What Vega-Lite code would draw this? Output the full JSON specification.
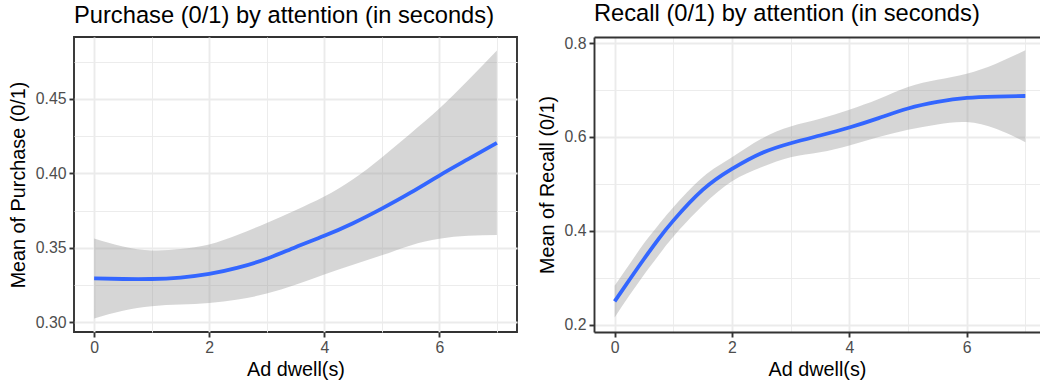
{
  "$schema": "https://vega.github.io/schema/vega-lite/v6.json",
  "padding": {"left": 7, "top": 2, "right": 0, "bottom": 0},
  "background": "white",
  "config": {
    "font": "Liberation Sans",
    "view": {"stroke": "#333333", "strokeWidth": 1.9},
    "axis": {
      "domain": false,
      "domainColor": "#333333",
      "domainWidth": 1.9,
      "tickColor": "#333333",
      "tickWidth": 1.9,
      "tickSize": 5,
      "labelColor": "#4D4D4D",
      "labelFontSize": 15.8,
      "labelPadding": 3,
      "titleColor": "#000000",
      "titleFontSize": 19.8,
      "titleFontWeight": "normal",
      "gridColor": "#EBEBEB",
      "gridWidth": 1.9,
      "gridOpacity": 1
    },
    "title": {"fontSize": 23.7, "fontWeight": "normal", "anchor": "start", "frame": "group", "color": "#000000", "offset": 9},
    "concat": {"spacing": 77}
  },
  "datasets": {
    "purchase": [
      {"x": 0, "fit": 0.3295, "lo": 0.3025, "hi": 0.3563},
      {"x": 0.5, "fit": 0.3290, "lo": 0.3076, "hi": 0.3509},
      {"x": 1, "fit": 0.3290, "lo": 0.3107, "hi": 0.3482},
      {"x": 1.5, "fit": 0.3300, "lo": 0.3118, "hi": 0.3491},
      {"x": 2, "fit": 0.3324, "lo": 0.3129, "hi": 0.3522},
      {"x": 2.5, "fit": 0.3366, "lo": 0.3152, "hi": 0.3587},
      {"x": 3, "fit": 0.3426, "lo": 0.3192, "hi": 0.3667},
      {"x": 3.5, "fit": 0.3504, "lo": 0.3252, "hi": 0.3752},
      {"x": 4, "fit": 0.3580, "lo": 0.3321, "hi": 0.3844},
      {"x": 4.5, "fit": 0.3665, "lo": 0.3386, "hi": 0.3960},
      {"x": 5, "fit": 0.3763, "lo": 0.3449, "hi": 0.4107},
      {"x": 5.5, "fit": 0.3870, "lo": 0.3516, "hi": 0.4268},
      {"x": 6, "fit": 0.3985, "lo": 0.3560, "hi": 0.4435},
      {"x": 6.5, "fit": 0.4095, "lo": 0.3580, "hi": 0.4625},
      {"x": 7, "fit": 0.4205, "lo": 0.3585, "hi": 0.4826}
    ],
    "recall": [
      {"x": 0, "fit": 0.2498, "lo": 0.2156, "hi": 0.2832},
      {"x": 0.25, "fit": 0.2952, "lo": 0.2620, "hi": 0.3280},
      {"x": 0.5, "fit": 0.3400, "lo": 0.3066, "hi": 0.3734},
      {"x": 0.75, "fit": 0.3827, "lo": 0.3480, "hi": 0.4130},
      {"x": 1, "fit": 0.4217, "lo": 0.3876, "hi": 0.4502},
      {"x": 1.5, "fit": 0.4871, "lo": 0.4537, "hi": 0.5141},
      {"x": 2, "fit": 0.5319, "lo": 0.5056, "hi": 0.5568},
      {"x": 2.5, "fit": 0.5653, "lo": 0.5355, "hi": 0.5959},
      {"x": 3, "fit": 0.5866, "lo": 0.5568, "hi": 0.6222},
      {"x": 3.5, "fit": 0.6030, "lo": 0.5674, "hi": 0.6385},
      {"x": 4, "fit": 0.6200, "lo": 0.5818, "hi": 0.6579},
      {"x": 4.5, "fit": 0.6400, "lo": 0.5996, "hi": 0.6806},
      {"x": 5, "fit": 0.6605, "lo": 0.6152, "hi": 0.7062},
      {"x": 5.5, "fit": 0.6745, "lo": 0.6266, "hi": 0.7218},
      {"x": 6, "fit": 0.6830, "lo": 0.6316, "hi": 0.7346},
      {"x": 6.5, "fit": 0.6858, "lo": 0.6173, "hi": 0.7559},
      {"x": 7, "fit": 0.6872, "lo": 0.5889, "hi": 0.7844}
    ]
  },
  "bounds": "flush",
  "hconcat": [
    {
      "width": 443,
      "height": 295,
      "title": "Purchase (0/1) by attention (in seconds)",
      "data": {"name": "purchase"},
      "layer": [
        {
          "mark": {"type": "area", "color": "#999999", "opacity": 0.4, "interpolate": "natural"},
          "encoding": {
            "x": {"field": "x", "type": "quantitative", "scale": {"domain": [-0.35, 7.35], "nice": false, "zero": false},
                  "axis": {"orient": "bottom", "values": [1, 3, 5, 7], "grid": true, "gridWidth": 0.95, "labels": false, "ticks": false, "title": null}},
            "y": {"field": "lo", "type": "quantitative", "scale": {"domain": [0.2934, 0.4916], "nice": false, "zero": false},
                  "axis": {"orient": "left", "values": [0.325, 0.375, 0.425, 0.475], "grid": true, "gridWidth": 0.95, "labels": false, "ticks": false, "title": null}},
            "y2": {"field": "hi"}
          }
        },
        {
          "mark": {"type": "line", "color": "#3366FF", "strokeWidth": 3.8, "interpolate": "natural"},
          "encoding": {
            "x": {"field": "x", "type": "quantitative",
                  "axis": {"orient": "bottom", "values": [0, 2, 4, 6], "grid": true, "title": "Ad dwell(s)", "titlePadding": 5}},
            "y": {"field": "fit", "type": "quantitative",
                  "axis": {"orient": "left", "values": [0.30, 0.35, 0.40, 0.45], "format": ".2f", "grid": true, "title": "Mean of Purchase (0/1)", "titlePadding": 7}}
          }
        }
      ],
      "resolve": {"axis": {"x": "independent", "y": "independent"}}
    },
    {
      "width": 446,
      "height": 295,
      "view": {"stroke": null},
      "title": "Recall (0/1) by attention (in seconds)",
      "data": {"name": "recall"},
      "layer": [
        {
          "mark": {"type": "area", "color": "#999999", "opacity": 0.4, "interpolate": "natural"},
          "encoding": {
            "x": {"field": "x", "type": "quantitative", "scale": {"domain": [-0.352, 7.25], "nice": false, "zero": false},
                  "axis": {"orient": "top", "values": [1, 3, 5, 7], "grid": true, "gridWidth": 0.95, "labels": false, "ticks": false, "domain": true, "title": null}},
            "y": {"field": "lo", "type": "quantitative", "scale": {"domain": [0.1845, 0.8128], "nice": false, "zero": false},
                  "axis": {"orient": "left", "values": [0.3, 0.5, 0.7], "grid": true, "gridWidth": 0.95, "labels": false, "ticks": false, "title": null}},
            "y2": {"field": "hi"}
          }
        },
        {
          "mark": {"type": "line", "color": "#3366FF", "strokeWidth": 3.8, "interpolate": "natural"},
          "encoding": {
            "x": {"field": "x", "type": "quantitative",
                  "axis": {"orient": "bottom", "values": [0, 2, 4, 6], "grid": true, "domain": true, "title": "Ad dwell(s)", "titlePadding": 5}},
            "y": {"field": "fit", "type": "quantitative",
                  "axis": {"orient": "left", "values": [0.2, 0.4, 0.6, 0.8], "format": ".1f", "grid": true, "domain": true, "title": "Mean of Recall (0/1)", "titlePadding": 7}}
          }
        }
      ],
      "resolve": {"axis": {"x": "independent", "y": "independent"}}
    }
  ]
}
